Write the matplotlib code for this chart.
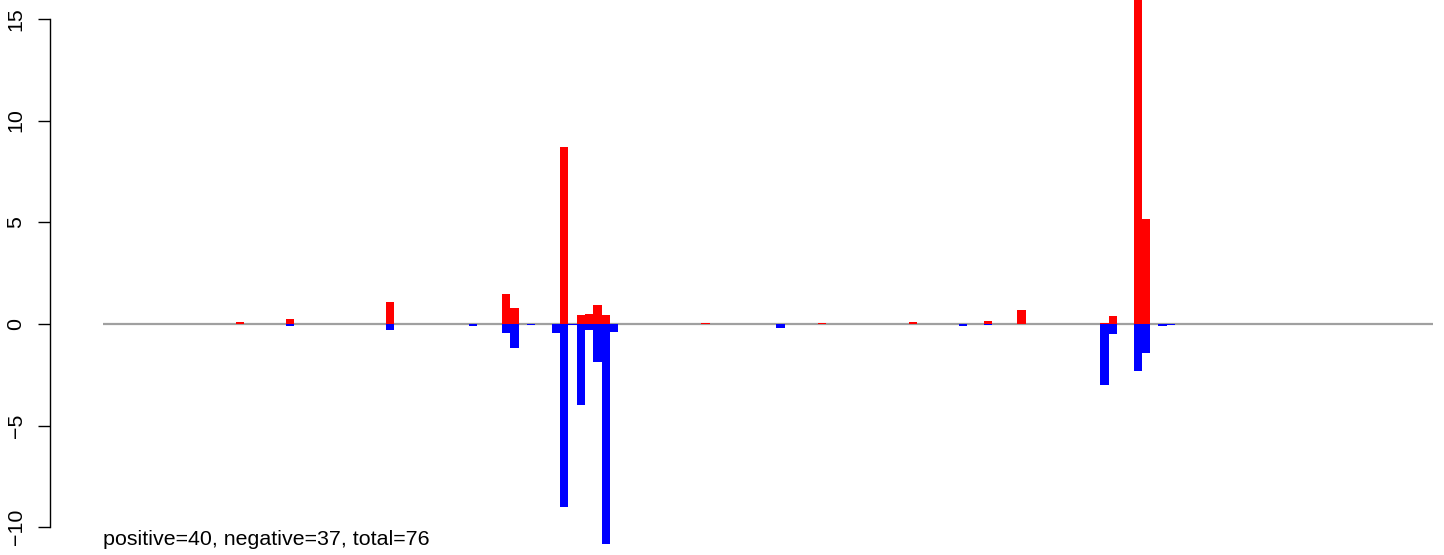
import matplotlib
matplotlib.use("Agg")
import matplotlib.pyplot as plt

n_bins = 160
pos_idx = [16, 22, 34, 48, 49, 55, 57, 58, 59, 60, 72, 86, 97, 106, 110, 120, 121, 124, 125]
pos_val = [0.08, 0.23, 1.07, 1.46, 0.77, 8.69, 0.43, 0.48, 0.92, 0.43, 0.03, 0.03, 0.08, 0.13, 0.67, 0.03, 0.38, 16.5, 5.15]
neg_idx = [22, 34, 44, 48, 49, 51, 54, 55, 56, 57, 58, 59, 60, 61, 81, 103, 106, 120, 121, 124, 125, 127, 128]
neg_val = [-0.11, -0.31, -0.10, -0.44, -1.18, -0.05, -0.44, -9.0, -0.05, -3.98, -0.28, -1.87, -10.82, -0.39,
           -0.21, -0.11, -0.05, -3.02, -0.49, -2.31, -1.43, -0.10, -0.05]
yticks = [-10, -5, 0, 5, 10, 15]
summary = "positive=40, negative=37, total=76"

plt.rcParams['font.family'] = ['Liberation Sans', 'DejaVu Sans']

W, H = 1444, 555
fig = plt.figure(figsize=(W / 100, H / 100), dpi=100)
ax = fig.add_axes([50 / W, 0, 1 - 50 / W, 1])

ax.plot([0, n_bins], [0, 0], color='#a0a0a0', lw=1.6, zorder=1, solid_capstyle='butt')
ax.bar(pos_idx, pos_val, width=1.0, align='edge', color='#ff0000', linewidth=0, zorder=2)
ax.bar(neg_idx, neg_val, width=1.0, align='edge', color='#0000ff', linewidth=0, zorder=2)

ax.set_xlim(-6.39, 161.36)
ax.set_ylim(-11.37, 15.93)

for s in ['top', 'right', 'bottom']:
    ax.spines[s].set_visible(False)
ax.spines['left'].set_bounds(-10, 15)
ax.spines['left'].set_linewidth(1.0)
ax.set_xticks([])
ax.set_yticks(yticks)
ax.set_yticklabels([str(t).replace('-', '\u2212') for t in yticks], rotation=90, va='center', fontsize=15.4)
ax.tick_params(axis='y', length=8.6, width=1.0, pad=9)

fig.text(103 / W, 1 - 545 / H, summary, fontsize=15.4, ha='left', va='baseline')

fig.savefig('out.png', dpi=100)
